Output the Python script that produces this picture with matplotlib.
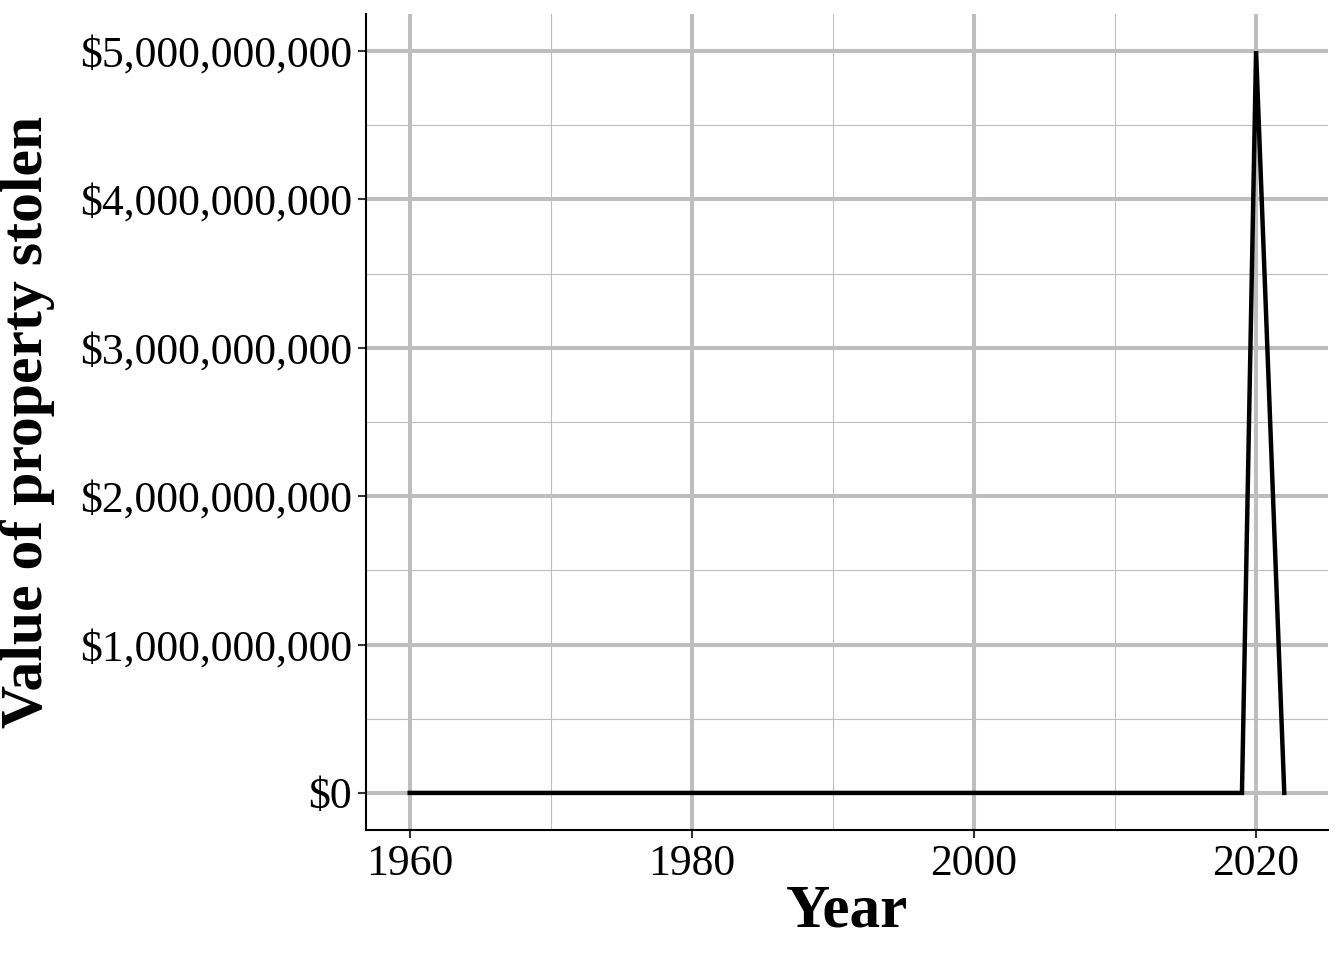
import numpy as np
import matplotlib.pyplot as plt
from matplotlib.ticker import FuncFormatter, MultipleLocator

# data
years = list(range(1960, 2023))
stolen = [0] * (2019 - 1960 + 1) + [5.0e9, 2.5e9, 0]

x_ticks = [1960, 1980, 2000, 2020]
y_ticks = [0, 1e9, 2e9, 3e9, 4e9, 5e9]

plt.rcParams['font.family'] = ['Liberation Serif', 'DejaVu Serif']

fig = plt.figure(figsize=(13.44, 9.6), dpi=100)
ax = fig.add_axes([0.2723, 0.1354, 0.7158, 0.85])

ax.plot(years, stolen, color='black', linewidth=3.2, solid_joinstyle='miter', zorder=3)

ax.set_xlim(1956.9, 2025.1)
ax.set_ylim(-0.25e9, 5.25e9)
ax.set_xticks(x_ticks)
ax.set_yticks(y_ticks)
ax.xaxis.set_minor_locator(MultipleLocator(10))
ax.yaxis.set_minor_locator(MultipleLocator(0.5e9))
ax.yaxis.set_major_formatter(FuncFormatter(lambda v, p: '${:,.0f}'.format(v)))

ax.grid(which='major', color='#BEBEBE', linewidth=2.9)
ax.grid(which='minor', color='#BEBEBE', linewidth=0.8)
ax.set_axisbelow(True)

for side in ['top', 'right']:
    ax.spines[side].set_visible(False)
for side in ['left', 'bottom']:
    ax.spines[side].set_linewidth(1.5)
    ax.spines[side].set_color('black')

ax.tick_params(which='major', length=6, width=1.5, color='#333333', labelsize=31.5, labelcolor='black', pad=4)
ax.tick_params(which='minor', length=0)

ax.set_xlabel('Year', fontsize=44, fontweight='bold', labelpad=0)
ax.set_ylabel('Value of property stolen', fontsize=43, fontweight='bold', labelpad=18)

fig.savefig('out.png', dpi=100)
